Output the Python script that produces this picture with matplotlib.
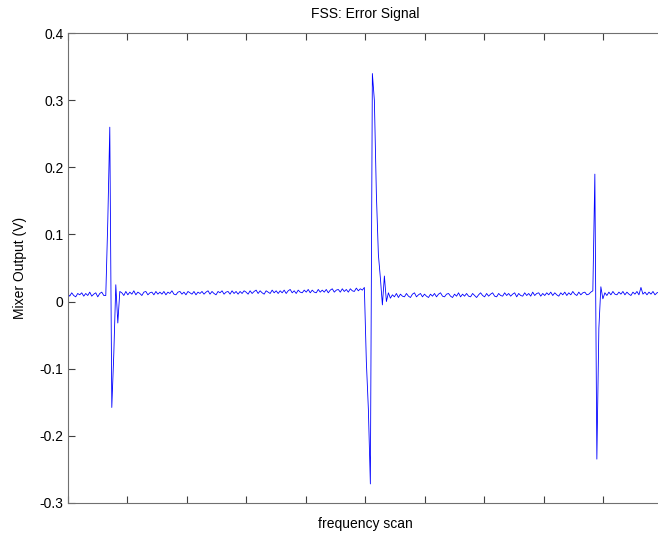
import numpy as np
import matplotlib
matplotlib.use("Agg")
import matplotlib.pyplot as plt
from matplotlib.ticker import FuncFormatter

plt.rcParams['font.family'] = ['Liberation Sans', 'DejaVu Sans']
plt.rcParams['axes.unicode_minus'] = False

# mixer output in mV (one value per sample)
baseline_a = [12, 8, 13, 9, 7, 12, 10, 13, 8, 12, 9, 14, 8, 11, 13, 7, 12, 14, 9]
peak_1 = [9, 120, 260, -158, -78, 25, -32, 15]
baseline_b = [13, 9, 15, 10, 14, 11, 16, 10, 14, 12, 9, 14, 15, 10, 13, 14, 10, 15, 11, 14,
              11, 15, 10, 14, 12, 16, 11, 10, 14, 15, 11, 14, 10, 15, 13, 11, 15, 10, 14, 12,
              15, 11, 14, 16, 11, 15, 12, 10, 15, 13, 16, 11, 14, 15, 11, 16, 12, 15, 11, 15,
              12, 16, 14, 11, 16, 12, 15, 17, 12, 16, 13, 11, 16, 14, 12, 17, 13, 16, 12, 16,
              13, 17, 12, 16, 18, 13, 16, 12, 17, 14, 13, 17, 14, 18, 13, 17, 14, 13, 18, 14,
              17, 14, 18, 13, 17, 19, 14, 17, 18, 14, 19, 15, 18, 14, 19, 16, 15, 20, 16, 19,
              17, 21]
peak_2 = [-90, -160, -272, 340, 300, 160, 70, 35, -5, 38, 0]
baseline_c = [13, 5, 10, 7, 12, 6, 11, 8, 7, 12, 8, 6, 11, 13, 7, 10, 12, 7, 11, 8,
              6, 11, 8, 12, 7, 11, 13, 8, 7, 11, 12, 8, 6, 11, 8, 13, 7, 11, 8, 12,
              8, 7, 12, 9, 6, 10, 13, 9, 7, 12, 8, 11, 13, 8, 7, 12, 9, 8, 13, 9,
              12, 8, 11, 13, 7, 12, 9, 8, 13, 9, 12, 8, 14, 9, 12, 13, 8, 12, 9, 13,
              10, 14, 9, 13, 10, 8, 13, 10, 14, 9, 13, 10, 15, 11, 9, 14, 10, 13, 14, 10,
              11, 14]
peak_3 = [16, 190, -235, -40, 22, 4]
baseline_d = [13, 9, 14, 10, 15, 11, 10, 14, 11, 15, 10, 14, 11, 9, 14, 11, 15, 10, 21, 11,
              14, 10, 14, 11, 15, 10, 13, 14, 10, 13]

mixer_v = np.array(baseline_a + peak_1 + baseline_b + peak_2 + baseline_c + peak_3 + baseline_d) / 1000.0
scan = np.arange(len(mixer_v))

y_ticks = [-0.3, -0.2, -0.1, 0, 0.1, 0.2, 0.3, 0.4]

fig = plt.figure(figsize=(6.58, 5.33), dpi=100)
ax = fig.add_axes([67.7 / 658, 1 - 502.7 / 533, (663 - 67.7) / 658, (502.7 - 33.3) / 533])

ax.plot(scan, mixer_v, color='#0000ff', lw=0.6)

ax.set_xlim(0, len(mixer_v) - 1)
ax.set_ylim(-0.3, 0.4)
ax.set_xticks(np.linspace(0, len(mixer_v) - 1, 11))
ax.set_xticklabels([])
ax.set_yticks(y_ticks)
ax.yaxis.set_major_formatter(FuncFormatter(lambda v, p: '%g' % round(v, 2)))
ax.tick_params(direction='in', length=5, width=0.8, color='#404040',
               top=True, right=False, labelsize=10, pad=3)

for s in ax.spines.values():
    s.set_color('#707070')
    s.set_linewidth(0.8)

ax.set_title('FSS: Error Signal', fontsize=10, pad=11)
ax.set_xlabel('frequency scan', fontsize=10, labelpad=7)
ax.set_ylabel('Mixer Output (V)', fontsize=10, labelpad=9)

fig.savefig('out.png', dpi=100)
